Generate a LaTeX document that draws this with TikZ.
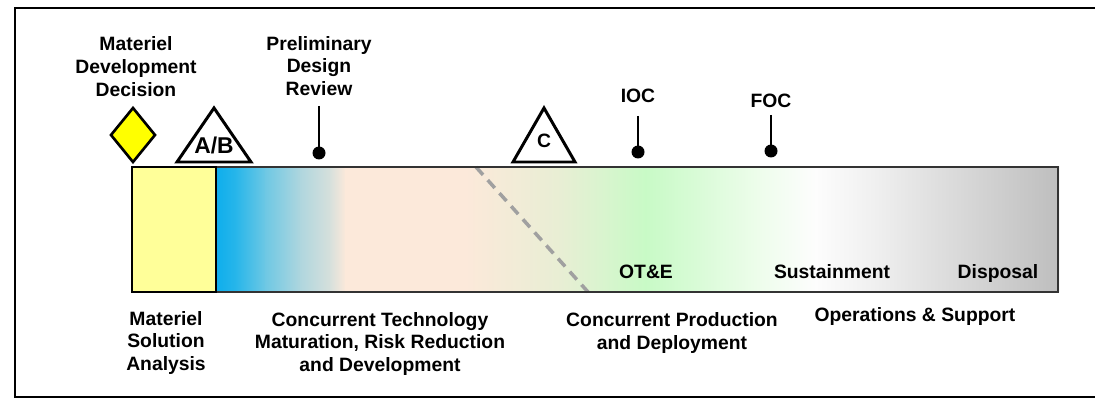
\documentclass[tikz,border=0pt]{standalone}
\usepackage{fontspec}
\setmainfont{Liberation Sans}

\definecolor{msabox}{RGB}{255,255,153}
\definecolor{mddfill}{RGB}{255,255,0}
\definecolor{splitline}{RGB}{160,160,160}
\definecolor{s0}{RGB}{14,174,236}
\definecolor{s1}{RGB}{40,182,234}
\definecolor{s2}{RGB}{110,200,228}
\definecolor{s3}{RGB}{175,214,222}
\definecolor{s4}{RGB}{215,224,220}
\definecolor{s5}{RGB}{252,233,218}
\definecolor{s6}{RGB}{252,233,218}
\definecolor{s7}{RGB}{232,238,212}
\definecolor{s8}{RGB}{216,245,206}
\definecolor{s9}{RGB}{200,250,198}
\definecolor{s10}{RGB}{218,251,216}
\definecolor{s11}{RGB}{238,253,236}
\definecolor{s12}{RGB}{253,253,253}
\definecolor{s13}{RGB}{238,238,238}
\definecolor{s14}{RGB}{190,190,190}

\begin{document}
\begin{tikzpicture}[x=0.02cm, y=-0.02cm,
  lbl/.style={font=\fontsize{11}{13}\selectfont\bfseries, align=center, inner sep=0pt},
  biglbl/.style={font=\fontsize{13}{15}\selectfont\bfseries, inner sep=0pt},
  dot/.style={circle, fill=black, inner sep=0pt, minimum size=0.26cm},
  stem/.style={line width=1.1pt},
  gate/.style={line width=1.7pt, line join=miter, fill=white}]

\useasboundingbox (0,0) rectangle (1095,398) ;
\draw [line width=1.2pt] (15,8) rectangle (1120,397) ;

\foreach \xa/\ca/\xb/\cb in {216/s0/236/s1, 236/s1/265/s2, 265/s2/300/s3, 300/s3/330/s4,
    330/s4/345/s5, 345/s5/465/s6, 465/s6/560/s7, 560/s7/605/s8, 605/s8/645/s9,
    645/s9/700/s10, 700/s10/760/s11, 760/s11/815/s12, 815/s12/880/s13, 880/s13/1058/s14}
  \shade [left color=\ca, right color=\cb] (\xa,167) rectangle (\xb+1,292) ;

\coordinate (splittop) at (476,167) ;
\coordinate (splitbot) at (588,292) ;
\draw [splitline, line width=2pt, dash pattern=on 6pt off 4pt] (splittop) -- (splitbot) ;

\draw [black!80, line width=0.8pt] (132,167) rectangle (1058,292) ;
\draw [fill=msabox, line width=0.8pt] (132,167) rectangle (216,292) ;

\node [lbl] (mdd) at (136,66.5) {Materiel\\Development\\Decision} ;
\draw [fill=mddfill, line width=1.5pt, line join=miter] (133,108) -- (155,135) -- (133,162) -- (111,135) -- cycle ;

\draw [gate] (177,162) -- (214,108) -- (251,162) -- cycle ;
\node [biglbl] (msab) at (214,145) {A/B} ;

\node [lbl] (pdr) at (319,66) {Preliminary\\Design\\Review} ;
\coordinate (pdrtop) at (319,106) ;
\node [dot] (pdrdot) at (319,153) {} ;
\draw [stem] (pdrtop) -- (pdrdot.center) ;

\draw [gate] (513,162) -- (544,108) -- (575,162) -- cycle ;
\node [lbl] (msc) at (544,141) {C} ;

\node [lbl, anchor=base] (ioc) at (638,103) {IOC} ;
\coordinate (ioctop) at (638,116) ;
\node [dot] (iocdot) at (638,152) {} ;
\draw [stem] (ioctop) -- (iocdot.center) ;

\node [lbl, anchor=base] (foc) at (771,108) {FOC} ;
\coordinate (foctop) at (771,115) ;
\node [dot] (focdot) at (771,151) {} ;
\draw [stem] (foctop) -- (focdot.center) ;

\node [lbl, anchor=base] (ote) at (646,279) {OT\&E} ;
\node [lbl, anchor=base] (sust) at (832,279) {Sustainment} ;
\node [lbl, anchor=base] (disp) at (998,279) {Disposal} ;

\node [lbl] (msa) at (166,343) {Materiel\\Solution\\Analysis} ;
\node [lbl] (tmrr) at (380,344) {Concurrent Technology\\Maturation, Risk Reduction\\and Development} ;
\node [lbl] (pd) at (672,333) {Concurrent Production\\and Deployment} ;
\node [lbl, anchor=base] (os) at (915,322) {Operations \& Support} ;

\end{tikzpicture}
\end{document}
